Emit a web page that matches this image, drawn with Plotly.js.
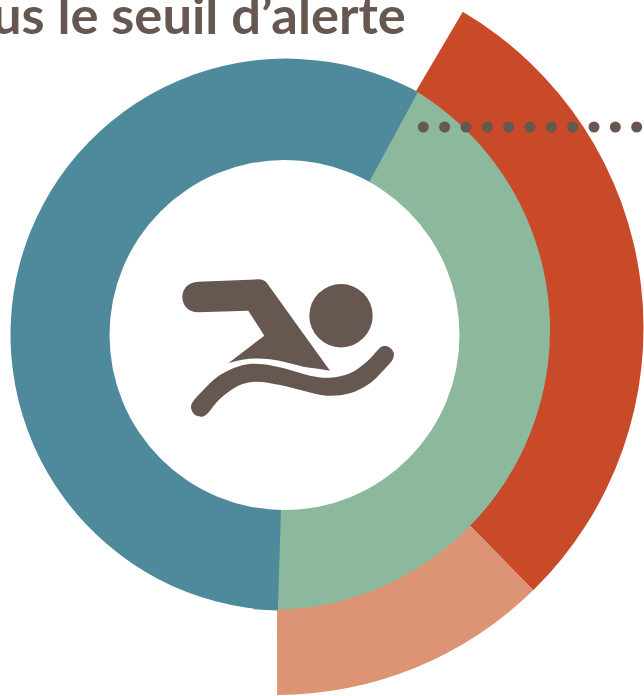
<!DOCTYPE html>
<html><head><meta charset="utf-8">
<script src="https://cdn.plot.ly/plotly-3.0.1.min.js"></script>
<style>html,body{margin:0;padding:0;width:644px;height:696px;overflow:hidden;background:#fff}
#c{position:absolute;left:-300px;top:-100px;width:1300px;height:1200px}
#c path{shape-rendering:geometricPrecision !important}</style>
</head><body><div id="c"></div><script>
const titleText = "us le seuil d’alerte";
const ringValues = [57.4, 42.6];  // bleu, vert
const ringColors = ["#4f8a9c", "#8cb89d"];
const outerValues = [29.2, 12.3]; // rouge, saumon
const outerColors = ["#c94a28", "#dd9474"];
const dotCount = 11;
const brown = "#665751";

const L = 300, T = 100, W = 1300, H = 1200;
const dom = (cx, cy, r) => ({x: [(cx - r + L) / W, (cx + r + L) / W], y: [1 - (cy + r + T) / H, 1 - (cy - r + T) / H]});
const X = x => ((x + L) / W).toFixed(5), Y = y => (1 - (y + T) / H).toFixed(5);
const sum = a => a.reduce((p, q) => p + q, 0);
const pie = (vals, cols, geom, rot) => ({
  type: "pie", values: [...vals, 100 - sum(vals)], marker: {colors: [...cols, "rgba(0,0,0,0)"], line: {width: 0}},
  domain: dom(...geom), rotation: rot, sort: false, direction: "clockwise",
  textinfo: "none", hoverinfo: "skip", showlegend: false
});
const data = [
  pie(outerValues, outerColors, [276.5, 328, 367], 30.5),
  pie([ringValues[1]], [ringColors[1]], [270, 330, 280], 30),
  pie([ringValues[0]], [ringColors[0]], [286.5, 334.6, 276], 181.8)
];
const circle = (x, y, r, c) => ({type: "circle", xref: "paper", yref: "paper", x0: X(x - r), x1: X(x + r), y0: Y(y - r), y1: Y(y + r), fillcolor: c, line: {width: 0}, layer: "above"});
const path = (cmds, extra) => {
  const s = cmds.map(c => c[0] + c.slice(1).map((v, i) => i % 2 ? Y(v) : X(v)).reduce((a, b, i) => a + (i ? (i % 2 ? "," : " ") : "") + b, "")).join(" ");
  return Object.assign({type: "path", xref: "paper", yref: "paper", path: s, layer: "above"}, extra);
};
// closed smooth outline through the traced points of the wave
const smooth = pts => {
  const n = pts.length, cmds = [["M", ...pts[0]]];
  for (let i = 0; i < n; i++) {
    const p0 = pts[(i - 1 + n) % n], p1 = pts[i], p2 = pts[(i + 1) % n], p3 = pts[(i + 2) % n];
    cmds.push(["C", p1[0] + (p2[0] - p0[0]) / 6, p1[1] + (p2[1] - p0[1]) / 6, p2[0] - (p3[0] - p1[0]) / 6, p2[1] - (p3[1] - p1[1]) / 6, p2[0], p2[1]]);
  }
  cmds.push(["Z"]);
  return cmds;
};
const wave = [[192.4,402.5],[203.3,390],[220,375],[243.3,365],[263.3,364.3],[286.7,369],[310,375.7],[330,377.7],[350,373.3],[366.7,361.7],[377.4,350.5],[382.7,346.3],[389.5,347.4],[393.7,352.8],[392.6,359.5],[386,367.5],[370,383.3],[350,393.3],[326.7,395.7],[303.3,390.7],[280,385],[256.7,381.7],[240,385],[226.7,393.3],[216,403],[209,412],[203.2,416.5],[196,415.6],[191.5,409.8]];
const shapes = [
  circle(284.5, 335, 175, "#ffffff"),
  circle(341, 315.7, 31.7, brown),
  path([["M",198.3,281.7],["L",258,279.3],["C",262,279.2,265,280.5,266.7,282.7],["L",330,370.7],["C",320,369,312,368,303.3,366.7],["C",292,364,281,360.5,270,359.3],["C",256,357.5,242,358.5,228.3,363.3],["L",264.3,335.7],["L",248.3,310.7],["L",198.3,312.3],["C",177,312,177,282,198.3,281.7],["Z"]],
       {fillcolor: brown, line: {width: 0}}),
  path(smooth(wave), {fillcolor: brown, line: {width: 0}})
];
for (let i = 0; i < dotCount; i++) shapes.push(circle(423.3 + i * 21.34, 127, 5.5, brown));
const layout = {
  width: W, height: H, margin: {l: 0, r: 0, t: 0, b: 0}, paper_bgcolor: "#fff", showlegend: false,
  shapes,
  annotations: [{text: "<b>" + titleText + "</b>", xref: "paper", yref: "paper", x: +X(408), y: +Y(14), xanchor: "right", yanchor: "middle", showarrow: false,
    font: {family: "Lato, sans-serif", size: 52.5, color: brown}}]
};
Plotly.newPlot("c", data, layout, {displayModeBar: false, staticPlot: true});
</script></body></html>
